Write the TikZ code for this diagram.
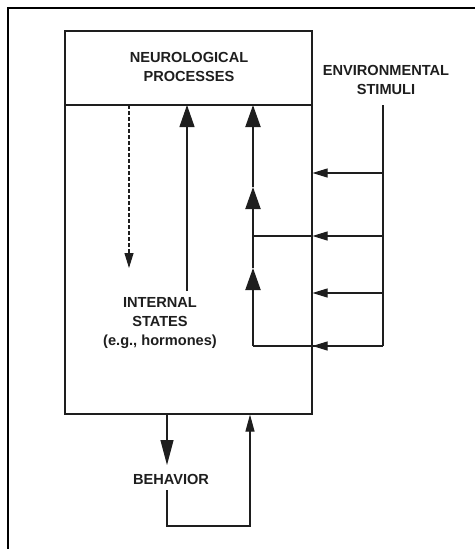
\documentclass[tikz,border=0pt]{standalone}
\usepackage{fontspec}
\setmainfont{Liberation Sans}
\usetikzlibrary{arrows.meta,calc}
\definecolor{DiagramInk}{HTML}{1E1E1E}

\begin{document}
\begin{tikzpicture}[x=1pt,y=-1pt,line width=1.1pt,DiagramInk,
  tag/.style={font=\bfseries\fontsize{14.6}{19}\selectfont,align=center,inner sep=0pt},
  bighead/.style={-{Triangle[length=22pt,width=15pt]}},
  smallhead/.style={-{Triangle[length=15pt,width=9pt]}}]
  \useasboundingbox (0,0) rectangle (475,549);
  \draw[line width=2.8pt,black] (8,549) -- (8,8) -- (475,8);
  % organism box, split into brain and body
  \node[draw,inner sep=0pt,minimum width=247pt,minimum height=383pt] (body) at (188.5,222.5) {};
  \coordinate (splitL) at (65,105);
  \draw (splitL) -- (splitL -| body.east);
  \node[tag] (neuro) at (189,67) {NEUROLOGICAL\\PROCESSES};
  \node[tag] (env) at (386,80) {ENVIRONMENTAL\\STIMULI};
  \node[tag] (internal) at (160,323) {INTERNAL\\STATES\\(e.g., hormones)};
  \node[tag] (behavior) at (171,479) {BEHAVIOR};
  % stimuli feed
  \coordinate (envtop) at (383,105);
  \coordinate (envbot) at (383,346);
  \draw (envtop) -- (envbot);
  \foreach \y in {173,236,293,346}
    \draw[smallhead] (envtop |- 0,\y) -- (body.east |- 0,\y);
  \coordinate (riseA) at (253,346);
  \coordinate (riseB) at (253,268);
  \coordinate (riseC) at (253,187);
  \coordinate (riseD) at (253,105);
  \draw (riseA) -- (envbot);
  \draw (riseC |- 0,236) -- (body.east |- 0,236);
  \draw[bighead,line width=2pt] (riseA) -- (riseB);
  \draw[bighead,line width=2pt] (riseB) -- (riseC);
  \draw[bighead,line width=2pt] (riseC) -- (riseD);
  % internal states up, brain down
  \coordinate (hormone) at (187,291);
  \draw[bighead] (hormone) -- (hormone |- splitL);
  \coordinate (brainout) at (129,105);
  \draw[-{Triangle[length=15pt,width=9pt]},dash pattern=on 4pt off 2pt] (brainout) -- (129,268);
  % behaviour loop
  \coordinate (actout) at (167,414);
  \draw[-{Triangle[length=25pt,width=13pt]}] (actout) -- (167,465);
  \coordinate (loopA) at (167,490);
  \coordinate (loopB) at (167,526);
  \coordinate (loopC) at (250,526);
  \draw[-{Triangle[length=17pt,width=9pt]}] (loopA) -- (loopB) -- (loopC) -- (loopC |- body.south);
\end{tikzpicture}
\end{document}
